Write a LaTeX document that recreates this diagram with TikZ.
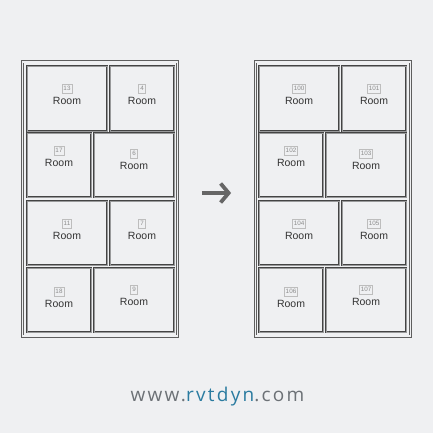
\documentclass[tikz,border=0pt]{standalone}
\usepackage{fontspec}
\setmainfont{Liberation Sans}
\newfontfamily\webfont[LetterSpace=12]{Open Sans}
\usetikzlibrary{arrows.meta,positioning}
\usepackage{xcolor}
\definecolor{bggray}{HTML}{EFF0F2}
\definecolor{wallgray}{HTML}{444444}
\definecolor{framegray}{HTML}{5E5E5E}
\definecolor{taggray}{HTML}{8C8C8C}
\definecolor{tagline}{HTML}{BDBDBD}
\definecolor{arrowgray}{HTML}{666666}
\definecolor{urlgray}{HTML}{6C7176}
\definecolor{urlblue}{HTML}{2A7BA0}
\tikzset{
  plan/.style={draw=framegray, line width=0.75pt, double=bggray, double distance=1.5pt,
    minimum width=155pt, minimum height=274pt, inner sep=0pt},
  room/.style={draw=wallgray, line width=0.75pt, double=bggray!50!wallgray, double distance=0.4pt,
    anchor=north west, inner sep=0pt, minimum height=64pt},
  bigroom/.style={room, minimum width=80pt},
  smallroom/.style={room, minimum width=64pt},
  roomname/.style={font=\fontsize{10.5}{12}\selectfont, text=black!80, inner sep=0pt},
  tag/.style={draw=tagline, line width=0.5pt, text=taggray, font=\fontsize{6.3}{7}\selectfont,
    inner sep=1.3pt, minimum height=9pt, minimum width=7pt},
}

\begin{document}
\begin{tikzpicture}[
  x=1pt, y=-1pt,
  node distance=4pt,
  arrowline/.style={draw=arrowgray, line width=3.8pt, -{Straight Barb[length=8pt,width=19pt]}},
  urltext/.style={font=\webfont\fontsize{19}{21}\selectfont, inner sep=0pt}
]
\fill[bggray] (0,0) rectangle (433,433);
\useasboundingbox (0,0) rectangle (433,433);

% before
\node[plan] (oldplan) at (100,199) {};
\node[bigroom, minimum height=65pt] (r13) at (27,66) {};
\node[smallroom, minimum height=65pt] (r4) at (110,66) {};
\node[smallroom] (r17) at (27,133) {};
\node[bigroom] (r6) at (94,133) {};
\node[bigroom] (r11) at (27,201) {};
\node[smallroom] (r7) at (110,201) {};
\node[smallroom] (r18) at (27,268) {};
\node[bigroom] (r9) at (94,268) {};

\node[roomname] (n13) at (67,101) {Room};
\node[tag, above=of n13] (t13) {13};
\node[roomname] (n4) at (142,101) {Room};
\node[tag, above=of n4] (t4) {4};
\node[roomname] (n17) at (59,163) {Room};
\node[tag, above=of n17] (t17) {17};
\node[roomname] (n6) at (134,166) {Room};
\node[tag, above=of n6] (t6) {6};
\node[roomname] (n11) at (67,236) {Room};
\node[tag, above=of n11] (t11) {11};
\node[roomname] (n7) at (142,236) {Room};
\node[tag, above=of n7] (t7) {7};
\node[roomname] (n18) at (59,304) {Room};
\node[tag, above=of n18] (t18) {18};
\node[roomname] (n9) at (134,302) {Room};
\node[tag, above=of n9] (t9) {9};

% after
\node[plan] (newplan) at (333,199) {};
\node[bigroom, minimum height=65pt] (r100) at (259,66) {};
\node[smallroom, minimum height=65pt] (r101) at (342,66) {};
\node[smallroom] (r102) at (259,133) {};
\node[bigroom] (r103) at (326,133) {};
\node[bigroom] (r104) at (259,201) {};
\node[smallroom] (r105) at (342,201) {};
\node[smallroom] (r106) at (259,268) {};
\node[bigroom] (r107) at (326,268) {};

\node[roomname] (n100) at (299,101) {Room};
\node[tag, above=of n100] (t100) {100};
\node[roomname] (n101) at (374,101) {Room};
\node[tag, above=of n101] (t101) {101};
\node[roomname] (n102) at (291,163) {Room};
\node[tag, above=of n102] (t102) {102};
\node[roomname] (n103) at (366,166) {Room};
\node[tag, above=of n103] (t103) {103};
\node[roomname] (n104) at (299,236) {Room};
\node[tag, above=of n104] (t104) {104};
\node[roomname] (n105) at (374,236) {Room};
\node[tag, above=of n105] (t105) {105};
\node[roomname] (n106) at (291,304) {Room};
\node[tag, above=of n106] (t106) {106};
\node[roomname] (n107) at (366,302) {Room};
\node[tag, above=of n107] (t107) {107};

\draw[arrowline, shorten <=24pt, shorten >=24pt]
  ([yshift=6pt]oldplan.east) -- ([yshift=6pt]newplan.west);

\node[urltext, anchor=base] (url) at (217.5,401)
  {\textcolor{urlgray}{www.}\textcolor{urlblue}{rvtdyn}\textcolor{urlgray}{.com}};
\end{tikzpicture}
\end{document}
